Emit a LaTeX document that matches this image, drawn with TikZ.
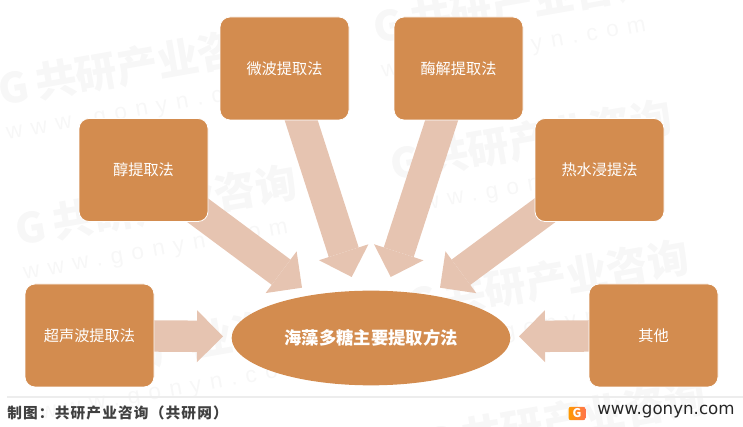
\documentclass[tikz,border=0pt]{standalone}
\usepackage{fontspec}
\setmainfont{Noto Sans CJK SC}
\newfontfamily\urlfont{DejaVu Sans}
\newfontfamily\markurlfont[LetterSpace=38]{Liberation Sans}
\newfontfamily\footfont[LetterSpace=8]{Noto Sans CJK SC}
\usetikzlibrary{arrows.meta}
\usetikzlibrary{backgrounds}
\usetikzlibrary{shapes.geometric}
\definecolor{boxorange}{HTML}{D38C4F}
\definecolor{flowtan}{HTML}{E6C4B1}
\definecolor{markgray}{HTML}{F7F7F7}

\begin{document}
\begin{tikzpicture}[x=0.75pt,y=-0.75pt,
  method node/.style={rectangle,rounded corners=7.5pt,fill=boxorange,draw=white,line width=0.6pt,
    minimum width=96.75pt,minimum height=77.25pt,inner sep=0pt,text=white,font=\fontsize{11.4}{14}\selectfont},
  flow/.style={draw=flowtan,line width=23.6pt,-{Triangle[length=19.5pt,width=39pt,line width=0pt]}},
  water mark/.style={anchor=north west,rotate=10,inner sep=0pt,text=markgray,align=left,font=\bfseries\fontsize{31}{38}\selectfont}]

  \path[use as bounding box] (0,0) rectangle (743,427);

  \node[method node] (micro) at (284.5,68.5) {微波提取法};
  \node[method node] (enzyme) at (458.5,68.5) {酶解提取法};
  \node[method node] (alcohol) at (143.5,170) {醇提取法};
  \node[method node] (hotwater) at (599.5,170) {热水浸提法};
  \node[method node] (ultra) at (89.5,335.5) {超声波提取法};
  \node[method node] (other) at (653.5,335.5) {其他};
  \node[ellipse,fill=boxorange,minimum width=209pt,minimum height=71pt,inner sep=0pt,text=white,
    font=\bfseries\fontsize{13}{16}\selectfont] (main) at (371,338) {海藻多糖主要提取方法};

  \coordinate (tip micro) at (351.7,277);
  \coordinate (tip enzyme) at (390.7,277);
  \coordinate (tip alcohol) at (302,287.7);
  \coordinate (tip hotwater) at (440,287.7);
  \coordinate (tip ultra) at (223,336.5);
  \coordinate (tip other) at (519,336.5);

  \begin{scope}[on background layer]
    \foreach \i/\x/\y in {1/-5/70,2/370/8,3/12/210,4/387/145,5/29/350,6/404/285,7/421/425}
      \node[water mark] (mark\i) at (\x,\y) {G\,共研产业咨询\\[-12pt]{\markurlfont\mdseries\fontsize{17}{20}\selectfont www.gonyn.com}};
    \foreach \a in {micro,enzyme,alcohol,hotwater,ultra,other}
      \draw[flow] (\a.center) -- (tip \a);
  \end{scope}

  \coordinate (rule start) at (7,397);
  \coordinate (rule end) at (743,397);
  \draw[color=black!7,line width=1pt] (rule start) -- (rule end);

  \node[anchor=west,inner sep=0pt,text=black!75,font=\footfont\bfseries\fontsize{11}{14}\selectfont] (source) at (7,413) {制图：共研产业咨询（共研网）};
  \node[rounded corners=1.5pt,left color=orange!80!yellow,right color=red!55!orange!70,minimum width=12.5pt,minimum height=10pt,
    inner sep=0pt,text=white,font=\bfseries\fontsize{9}{9}\selectfont] (logo) at (577,413.5) {G};
  \node[anchor=west,inner sep=0pt,text=black!85,font=\urlfont\fontsize{12.5}{14}\selectfont] (site) at (597,412) {www.gonyn.com};
\end{tikzpicture}
\end{document}
